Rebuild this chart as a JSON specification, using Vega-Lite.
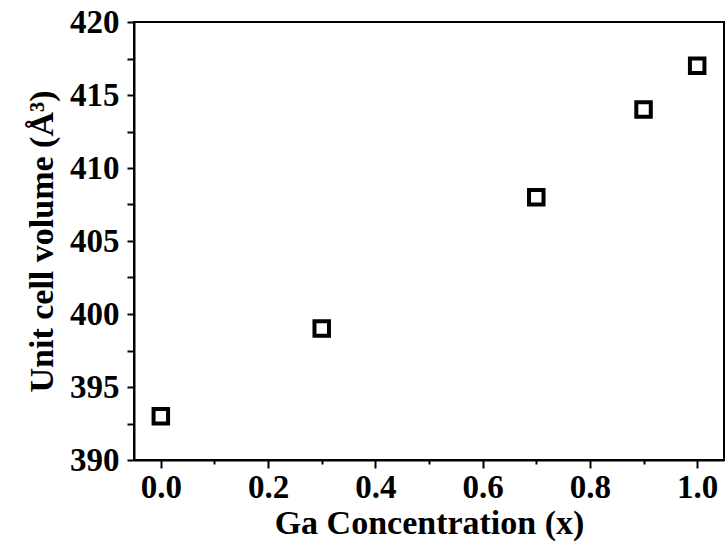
{
  "$schema": "https://vega.github.io/schema/vega-lite/v6.json",
  "width": 590,
  "height": 438,
  "autosize": {"type": "none"},
  "padding": {"left": 134, "top": 22, "right": 2, "bottom": 85},
  "background": "white",
  "config": {
    "view": {"stroke": "black", "strokeWidth": 2},
    "axis": {
      "grid": false,
      "domainColor": "black",
      "domainWidth": 2,
      "tickColor": "black",
      "tickWidth": 2,
      "labelFont": "Liberation Serif",
      "labelFontWeight": "bold",
      "labelFontSize": 33,
      "labelColor": "black",
      "titleFont": "Liberation Serif",
      "titleFontWeight": "bold",
      "titleFontSize": 34,
      "titleColor": "black"
    }
  },
  "data": {
    "values": [
      {"x": 0.0, "v": 393},
      {"x": 0.3, "v": 399},
      {"x": 0.7, "v": 408},
      {"x": 0.9, "v": 414},
      {"x": 1.0, "v": 417}
    ]
  },
  "mark": {"type": "point", "shape": "square", "size": 210, "filled": false, "stroke": "black", "strokeWidth": 4, "opacity": 1},
  "encoding": {
    "x": {
      "field": "x",
      "type": "quantitative",
      "scale": {"domain": [-0.05, 1.05], "nice": false, "zero": false},
      "axis": {
        "title": "Ga Concentration (x)",
        "values": [0, 0.1, 0.2, 0.3, 0.4, 0.5, 0.6, 0.7, 0.8, 0.9, 1.0],
        "labelExpr": "round(datum.value*10)%2==0 ? format(datum.value,'.1f') : ''",
        "tickSize": {"condition": {"test": "round(datum.value*10)%2==0", "value": 8}, "value": 4},
        "labelPadding": 3,
        "titlePadding": 2
      }
    },
    "y": {
      "field": "v",
      "type": "quantitative",
      "scale": {"domain": [390, 420], "nice": false, "zero": false},
      "axis": {
        "title": "Unit cell volume (Å³)",
        "values": [390, 392.5, 395, 397.5, 400, 402.5, 405, 407.5, 410, 412.5, 415, 417.5, 420],
        "labelExpr": "datum.value%5==0 ? datum.label : ''",
        "tickSize": 7,
        "labelPadding": 8,
        "titlePadding": 10
      }
    }
  }
}
